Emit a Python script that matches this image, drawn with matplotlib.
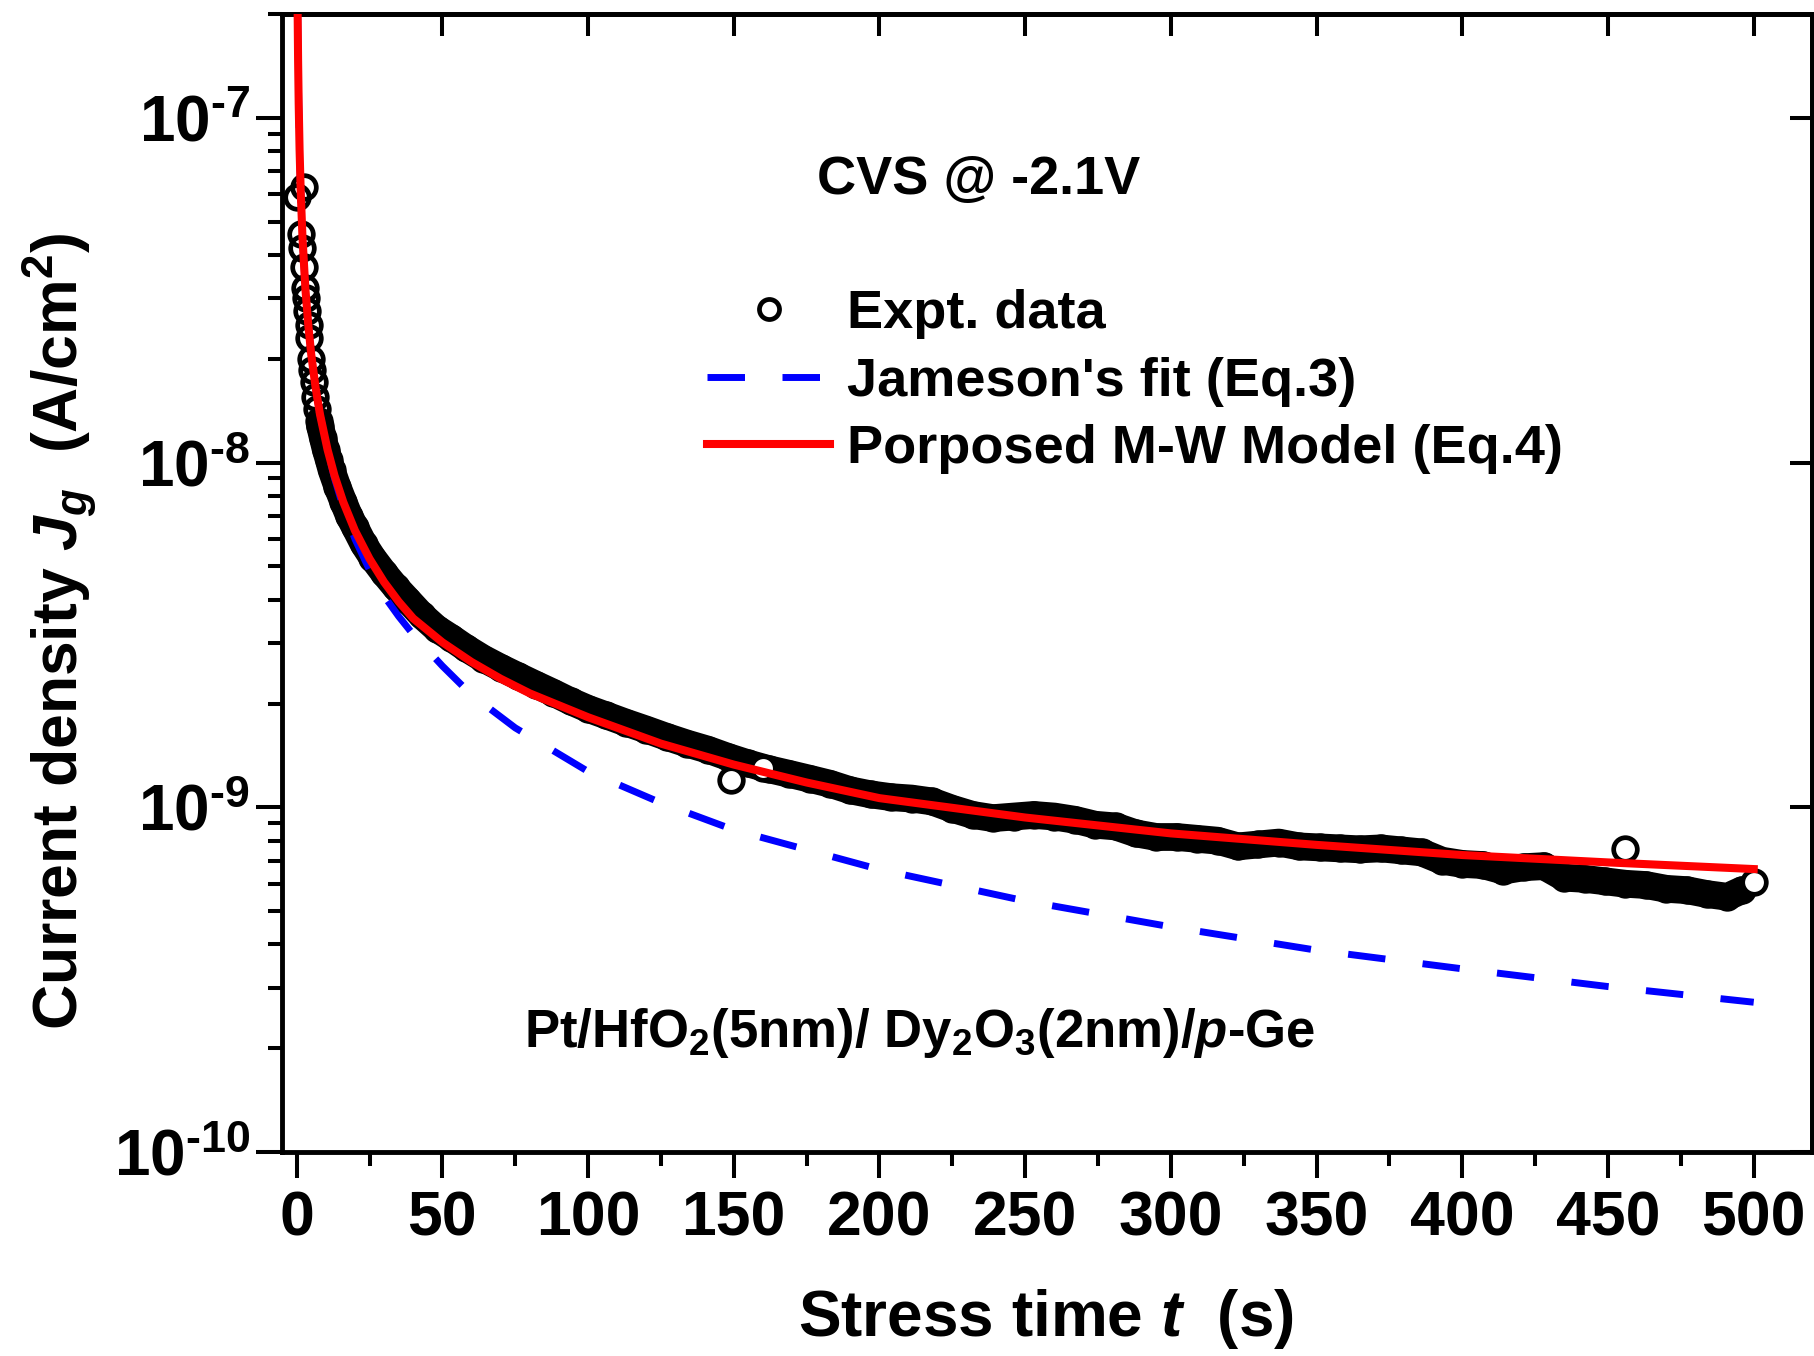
import math
import matplotlib
matplotlib.use("Agg")
import matplotlib.pyplot as plt
from matplotlib.ticker import (LogLocator, MultipleLocator, NullLocator,
                               NullFormatter, FuncFormatter)

plt.rcParams['font.family'] = 'Liberation Sans'
plt.rcParams['font.weight'] = 'bold'
plt.rcParams['mathtext.fontset'] = 'custom'
plt.rcParams['mathtext.rm'] = 'Liberation Sans:bold'
plt.rcParams['mathtext.it'] = 'Liberation Sans:bold:italic'
plt.rcParams['mathtext.bf'] = 'Liberation Sans:bold'
plt.rcParams['axes.unicode_minus'] = False

# measured gate current, first seconds (separate circles)
t_early = [0.2, 2.4, 1.4, 2.0, 2.4, 2.8, 3.2, 3.6, 4.1, 4.4, 4.8, 5.4, 5.8, 6.4, 7.0, 7.6]
j_early = [5.9e-8, 6.3e-8, 4.6e-8, 4.2e-8, 3.7e-8, 3.2e-8, 3.0e-8, 2.75e-8,
           2.5e-8, 2.3e-8, 2.0e-8, 1.86e-8, 1.71e-8, 1.55e-8, 1.43e-8, 1.32e-8]

# measured gate current, dense part (J in 1e-9 A/cm2)
t_expt = [8, 9, 10, 11, 12, 14, 16, 18, 20, 23, 26, 30, 34, 38, 43, 48, 53, 58,
          64, 70, 76, 82, 88, 94, 100, 106, 113, 120, 127, 134, 141, 148, 155,
          162, 169, 176, 183, 190, 197, 204, 211, 218, 225, 232, 239, 246, 253,
          260, 267, 274, 281, 288, 295, 302, 309, 316, 323, 330, 337, 344, 351,
          358, 365, 372, 379, 386, 393, 400, 407, 414, 421, 428, 435, 442, 449,
          456, 463, 470, 477, 484, 491, 496]
j_expt = [12.8, 11.8, 10.9, 10.2, 9.5, 8.5, 7.7, 7.0, 6.5, 5.8, 5.3, 4.78, 4.35,
          4.0, 3.6, 3.3, 3.1, 2.9, 2.7, 2.54, 2.4, 2.27, 2.15, 2.03, 1.93,
          1.85, 1.76, 1.68, 1.6, 1.53, 1.47, 1.4, 1.34, 1.29, 1.25, 1.21, 1.17,
          1.12, 1.09, 1.07, 1.06, 1.04, 0.99, 0.95, 0.93, 0.94, 0.95, 0.94, 0.92,
          0.89, 0.88, 0.84, 0.82, 0.82, 0.81, 0.80, 0.77, 0.78, 0.79, 0.77, 0.765,
          0.76, 0.755, 0.76, 0.75, 0.74, 0.70, 0.685, 0.68, 0.655, 0.67, 0.675,
          0.625, 0.62, 0.61, 0.60, 0.595, 0.58, 0.575, 0.56, 0.55, 0.575]

# single circles that stand out of the band
t_open = [149, 160, 456, 500]
j_open = [1.20e-9, 1.30e-9, 7.55e-10, 6.07e-10]

# Jameson's fit (Eq.3)
t_jam = [0.35, 0.5, 0.7, 1.0, 1.4, 2, 3, 4, 5, 6.5, 8, 10.6, 13, 16, 20, 25, 30,
         35, 40, 50, 60, 75, 100, 125, 150, 200, 250, 300, 350, 400, 450, 500]
j_jam = [1.98e-7, 1.46e-7, 1.10e-7, 8.11e-8, 6.09e-8, 4.50e-8, 3.19e-8, 2.50e-8,
         2.06e-8, 1.65e-8, 1.38e-8, 1.09e-8, 9.0e-9, 7.4e-9, 6.0e-9, 4.88e-9,
         4.1e-9, 3.58e-9, 3.17e-9, 2.57e-9, 2.12e-9, 1.70e-9, 1.27e-9, 1.03e-9,
         8.6e-10, 6.6e-10, 5.35e-10, 4.5e-10, 3.85e-10, 3.4e-10, 3.02e-10, 2.72e-10]

# proposed M-W model (Eq.4)
t_mw = [0.35, 0.5, 0.7, 1.0, 1.4, 2, 3, 4, 5, 6.5, 8, 10.6, 13, 16, 20, 25, 30,
        35, 40, 50, 60, 70, 80, 100, 125, 150, 175, 200, 250, 300, 350, 400, 450, 500]
j_mw = [1.98e-7, 1.46e-7, 1.10e-7, 8.11e-8, 6.09e-8, 4.50e-8, 3.19e-8, 2.50e-8,
        2.06e-8, 1.65e-8, 1.38e-8, 1.09e-8, 9.16e-9, 7.68e-9, 6.35e-9, 5.26e-9,
        4.50e-9, 3.95e-9, 3.53e-9, 3.01e-9, 2.64e-9, 2.36e-9, 2.14e-9, 1.825e-9,
        1.53e-9, 1.33e-9, 1.18e-9, 1.063e-9, 9.34e-10, 8.40e-10, 7.78e-10,
        7.27e-10, 6.92e-10, 6.62e-10]

fig = plt.figure(figsize=(18.14, 13.56), dpi=100)
ax = fig.add_axes([0.1555, 0.1504, 0.8434, 0.8393])

circle = dict(ls='none', marker='o', ms=17, mew=3.4, mec='black')
j_band = [v * 1e-9 for v in j_expt]
ax.plot(t_expt, j_band, color='black', lw=20, solid_capstyle='round', zorder=2)
ax.plot(t_expt, j_band, mfc='none', zorder=2, **circle)
ax.plot(t_early, j_early, mfc='none', zorder=2, label='Expt. data', **circle)
ax.plot(t_jam, j_jam, color='#0000ff', lw=5, dashes=(5.4, 5.4), zorder=3,
        label="Jameson's fit (Eq.3)")
ax.plot(t_open, j_open, mfc='white', zorder=3.5, **circle)
ax.plot(t_mw, j_mw, color='#ff0000', lw=5.8, zorder=4,
        label='Porposed M-W Model (Eq.4)')

ax.set_yscale('log')
ax.set_xlim(-5, 520)
ax.set_ylim(1e-10, 2e-7)
ax.xaxis.set_major_locator(MultipleLocator(50))
ax.xaxis.set_minor_locator(MultipleLocator(25))
ax.yaxis.set_major_locator(LogLocator(base=10, numticks=10))
ax.yaxis.set_minor_locator(LogLocator(base=10, subs=range(2, 10), numticks=20))
ax.yaxis.set_minor_formatter(NullFormatter())
ax.yaxis.set_major_formatter(FuncFormatter(
    lambda v, pos: r'$\mathdefault{10^{\text{%d}}}$' % round(math.log10(v))))

for s in ax.spines.values():
    s.set_linewidth(3.5)
ax.tick_params(which='major', direction='out', length=19, width=2.9, labelsize=45)
ax.tick_params(which='minor', direction='out', length=10, width=2.9)
ax.tick_params(axis='x', pad=8)
ax.tick_params(axis='y', pad=4, labelsize=46)

secx = ax.secondary_xaxis('top')
secx.xaxis.set_major_locator(MultipleLocator(50))
secx.xaxis.set_minor_locator(NullLocator())
secx.tick_params(direction='in', length=16, width=2.9, labeltop=False)
secx.spines['top'].set_linewidth(3.5)
secy = ax.secondary_yaxis('right')
secy.yaxis.set_major_locator(LogLocator(base=10, numticks=10))
secy.yaxis.set_minor_locator(NullLocator())
secy.tick_params(direction='in', length=16, width=2.9, labelright=False)
secy.spines['right'].set_linewidth(3.5)

fig.text(0.5766, 1 - 1319 / 1356, 'Stress time $t$  (s)', fontsize=46,
         ha='center', va='center')
fig.text(60 / 1814, 1 - 631 / 1356, 'Current density $J_g$  (A/cm$^2$)',
         fontsize=45, rotation=90, ha='center', va='center')

ax.text(0.455, 0.842, 'CVS @ -2.1V', fontsize=39, ha='center', va='baseline',
        transform=ax.transAxes)
ax.text(0.158, 0.092, 'Pt/HfO$_2$(5nm)/ Dy$_2$O$_3$(2nm)/$p$-Ge', fontsize=38,
        ha='left', va='baseline', transform=ax.transAxes)

ax.legend(loc='upper left', bbox_to_anchor=(0.278, 0.758), frameon=False,
          fontsize=39, handlelength=2.27, handletextpad=0.3, labelspacing=0.32,
          borderpad=0, borderaxespad=0, markerscale=0.85)

fig.savefig('out.png', dpi=100)
